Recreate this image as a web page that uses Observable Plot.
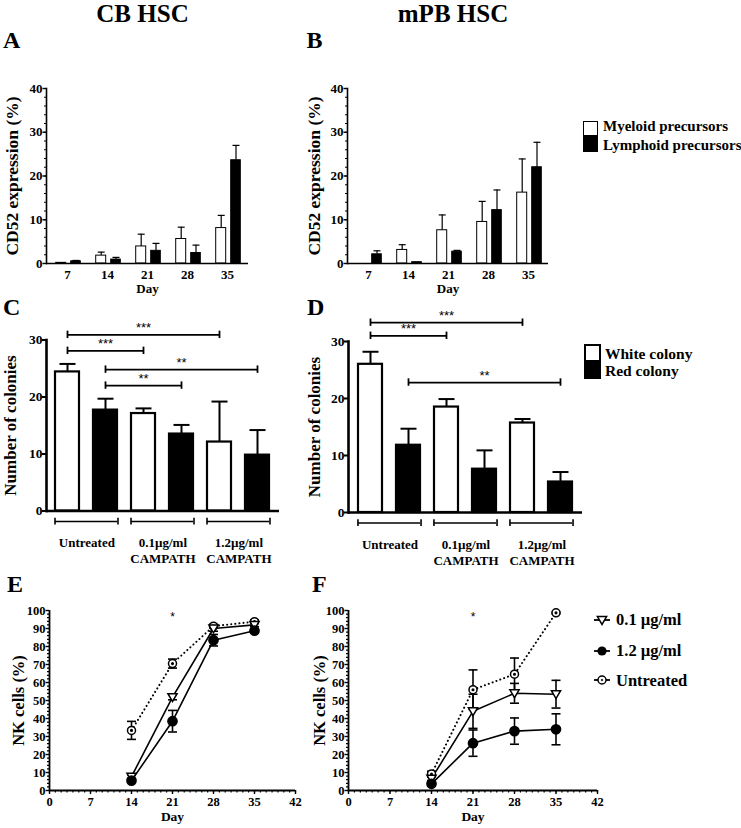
<!DOCTYPE html>
<html><head><meta charset="utf-8">
<script src="https://cdn.jsdelivr.net/npm/d3@7"></script>
<script src="https://cdn.jsdelivr.net/npm/@observablehq/plot@0.6"></script>
<style>
body{margin:0;background:#fff;}
#wrap{position:relative;width:741px;height:828px;overflow:hidden;font-family:"Liberation Serif","Times New Roman",serif;font-weight:bold;color:#000;background:#fff;}
.abs{position:absolute;line-height:1;white-space:nowrap;}
.panel{position:absolute;}
.panel svg{overflow:visible;background:transparent;}
.panel svg text{font-family:"Liberation Serif","Times New Roman",serif;font-weight:bold;fill:#000;}
.panel svg g[aria-label="text"].sans text, .panel svg .sans text{font-family:"Liberation Sans",Arial,sans-serif;font-weight:normal;}
</style></head><body><div id="wrap"></div>
<script>
// ---------- Data: panels A/B (CD52 expression) ----------
const days = [7, 14, 21, 28, 35];
const cbMyeloid = [0.15, 1.8, 3.9, 5.6, 8.1];
const cbMyeloidErr = [0, 0.8, 2.8, 2.7, 2.9];
const cbLymphoid = [0.5, 0.9, 2.9, 2.4, 23.6];
const cbLymphoidErr = [0.2, 0.5, 1.7, 1.8, 3.4];
const mpbMyeloid = [0, 3.1, 7.6, 9.5, 16.2];
const mpbMyeloidErr = [0, 1.2, 3.5, 4.7, 7.7];
const mpbLymphoid = [2.1, 0.3, 2.7, 12.2, 22.0];
const mpbLymphoidErr = [0.8, 0, 0.3, 4.6, 5.7];
const cd52Ticks = [0, 10, 20, 30, 40];

// ---------- Data: panels C/D (colonies) ----------
const treatments = ["Untreated", "0.1µg/ml\nCAMPATH", "1.2µg/ml\nCAMPATH"];
const colonyTypes = ["White colony", "Red colony"];
const cbWhite = [24.4, 17.1, 12.1];
const cbWhiteErr = [1.4, 0.9, 7.1];
const cbRed = [17.7, 13.5, 9.8];
const cbRedErr = [2.0, 1.6, 4.4];
const mpbWhite = [26.0, 18.5, 15.7];
const mpbWhiteErr = [2.2, 1.4, 0.7];
const mpbRed = [11.8, 7.6, 5.35];
const mpbRedErr = [2.9, 3.3, 1.75];
const colonyTicks = [0, 10, 20, 30];
// significance brackets (bar index order: W-Untr, R-Untr, W-0.1, R-0.1, W-1.2, R-1.2)
const cbSigFrom = [0, 0, 1, 1];
const cbSigTo = [4, 2, 5, 3];
const cbSigY = [30.9, 28.1, 24.8, 22.0];
const cbSigLabel = ["***", "***", "**", "**"];
const mpbSigFrom = [0, 0, 1];
const mpbSigTo = [4, 2, 5];
const mpbSigY = [33.3, 31.0, 22.8];
const mpbSigLabel = ["***", "***", "**"];

// ---------- Data: panels E/F (NK cells) ----------
const nkDays = [14, 21, 28, 35];
const nkSeries = ["0.1 µg/ml", "1.2 µg/ml", "Untreated"];
const cbNK01 = [7.7, 51.9, 90.0, 92.0];
const cbNK01Err = [1.0, 1.5, 1.5, 1.0];
const cbNK12 = [5.5, 38.5, 83.5, 88.8];
const cbNK12Err = [0.8, 6.0, 3.2, 1.0];
const cbNKUnt = [33.4, 70.5, 91.3, 93.8];
const cbNKUntErr = [5.0, 2.5, 1.0, 1.0];
const mpbNK01 = [6.6, 44.0, 54.0, 53.5];
const mpbNK01Err = [1.0, 9.5, 5.5, 7.7];
const mpbNK12 = [3.7, 26.3, 33.0, 34.0];
const mpbNK12Err = [1.0, 7.3, 7.3, 8.6];
const mpbNKUnt = [9.2, 56.0, 64.6, 98.7];
const mpbNKUntErr = [1.5, 11.0, 9.0, 0.5];
const nkXTicks = [0, 7, 14, 21, 28, 35, 42];
const nkYTicks = [0, 10, 20, 30, 40, 50, 60, 70, 80, 90, 100];
const nkSigDay = 21, nkSigY = 96.5;

// ---------- helpers ----------
const SERIF = '"Liberation Serif", "Times New Roman", serif';
const SANS = '"Liberation Sans", Arial, sans-serif';
const hline = {draw(ctx, size) {const r = Math.sqrt(size / Math.PI); ctx.moveTo(-r, 0); ctx.lineTo(r, 0);}};
const triDown = {draw(ctx, size) {const r = Math.sqrt(size / Math.PI); ctx.moveTo(-r, -r * 0.75); ctx.lineTo(r, -r * 0.75); ctx.lineTo(0, r * 0.95); ctx.closePath();}};
const circleDot = {draw(ctx, size) {const r = Math.sqrt(size / Math.PI); ctx.moveTo(r, 0); ctx.arc(0, 0, r, 0, 2 * Math.PI); ctx.moveTo(0.8, 0); ctx.arc(0, 0, 0.8, 0, 2 * Math.PI);}};
const wrap = document.getElementById("wrap");
function place(svg, left, top, tickFont) {
  svg.setAttribute("font-family", SERIF);
  svg.setAttribute("font-weight", "bold");
  svg.style.fontFamily = SERIF;
  svg.style.fontWeight = "bold";
  svg.style.background = "transparent";
  svg.style.overflow = "visible";
  svg.querySelectorAll('g[aria-label$="tick label"]').forEach(g => {
    g.setAttribute("font-size", tickFont);
    g.style.fontSize = tickFont + "px";
    g.style.fontFamily = SERIF;
    g.style.fontWeight = "bold";
  });
  const d = document.createElement("div");
  d.className = "panel"; d.style.left = left + "px"; d.style.top = top + "px";
  d.appendChild(svg); wrap.appendChild(d);
}
function yLabel(text, dx, size) {
  return Plot.text([text], {text: d => d, frameAnchor: "left", textAnchor: "middle", lineAnchor: "middle", rotate: -90, dx, fontSize: size, fontWeight: "bold", fill: "black"});
}

// ---------- Panels A/B ----------
function cd52Panel(my, myErr, ly, lyErr, o) {
  const rowsM = days.map((d, i) => ({day: String(d), value: my[i], top: my[i] + myErr[i], err: myErr[i]}));
  const rowsL = days.map((d, i) => ({day: String(d), value: ly[i], top: ly[i] + lyErr[i], err: lyErr[i]}));
  return Plot.plot({
    width: o.width, height: 232, marginLeft: o.ml, marginRight: o.mr, marginTop: 18, marginBottom: 39,
    x: {domain: days.map(String), padding: 0},
    y: {domain: [0, 40], label: null},
    marks: [
      Plot.ruleX(rowsM.filter(d => d.err > 0), {x: "day", y1: "value", y2: "top", dx: -6.3, strokeWidth: 1.2}),
      Plot.dot(rowsM.filter(d => d.err > 0), {x: "day", y: "top", dx: -6.3, symbol: hline, r: 3.5, fill: "none", stroke: "black", strokeWidth: 1.2}),
      Plot.ruleX(rowsL.filter(d => d.err > 0), {x: "day", y1: "value", y2: "top", dx: 8.5, strokeWidth: 1.2}),
      Plot.dot(rowsL.filter(d => d.err > 0), {x: "day", y: "top", dx: 8.5, symbol: hline, r: 3.5, fill: "none", stroke: "black", strokeWidth: 1.2}),
      Plot.barY(rowsM, {x: "day", y: "value", fill: "white", stroke: "black", strokeWidth: 1, insetLeft: 8.7, insetRight: 21.3}),
      Plot.barY(rowsL, {x: "day", y: "value", fill: "black", stroke: "black", strokeWidth: 1, insetLeft: 23.7, insetRight: 6.7}),
      Plot.ruleY([0], {strokeWidth: 1.6}),
      Plot.frame({anchor: "left", strokeWidth: 1.6}),
      Plot.axisY({ticks: d3.range(0, 41, 2), tickSize: 2, tickFormat: () => "", label: null, strokeWidth: 1.2}),
      Plot.axisY({ticks: cd52Ticks, tickSize: 3.5, tickPadding: 0.5, fontSize: 13, label: null, strokeWidth: 1.4}),
      Plot.axisX({tickSize: 0, tickPadding: 6, fontSize: 13, label: null}),
      Plot.text(["Day"], {text: d => d, frameAnchor: "bottom", dy: 29, fontSize: 13, fontWeight: "bold", fill: "black"}),
      yLabel("CD52 expression (%)", o.ldx, 17.5)
    ]
  });
}
place(cd52Panel(cbMyeloid, cbMyeloidErr, cbLymphoid, cbLymphoidErr, {width: 300, ml: 46, mr: 52, ldx: -34.5}), 0, 70, 13);
place(cd52Panel(mpbMyeloid, mpbMyeloidErr, mpbLymphoid, mpbLymphoidErr, {width: 260, ml: 47, mr: 12, ldx: -33.5}), 300, 70, 13);

// ---------- Panels C/D ----------
function colonyPanel(white, whiteErr, red, redErr, sFrom, sTo, sY, sLab, o) {
  const rows = [];
  treatments.forEach((t, i) => {
    rows.push({key: t + "|W", type: colonyTypes[0], value: white[i], top: white[i] + whiteErr[i]});
    rows.push({key: t + "|R", type: colonyTypes[1], value: red[i], top: red[i] + redErr[i]});
  });
  const keys = rows.map(d => d.key);
  const sig = sFrom.map((f, i) => ({from: keys[f], to: keys[sTo[i]], mid: keys[(f + sTo[i]) / 2], y: sY[i], label: sLab[i]}));
  const groups = treatments.map((t, i) => ({from: keys[2 * i], to: keys[2 * i + 1], label: t, y: -1.85}));
  const innerW = o.width - o.ml - o.mr;
  const pi = 0.356, po = 0.18;
  const step = innerW / (keys.length - pi + 2 * po);
  const bw = step * (1 - pi);
  return Plot.plot({
    width: o.width, height: o.height, marginLeft: o.ml, marginRight: o.mr, marginTop: o.mt, marginBottom: o.mb,
    x: {domain: keys, paddingInner: pi, paddingOuter: po, axis: null},
    y: {domain: [0, 30], label: null},
    marks: [
      Plot.ruleX(rows, {x: "key", y1: "value", y2: "top", strokeWidth: 2}),
      Plot.dot(rows, {x: "key", y: "top", symbol: hline, r: 8, fill: "none", stroke: "black", strokeWidth: 2}),
      Plot.barY(rows, {x: "key", y: "value", fill: d => d.type === colonyTypes[0] ? "white" : "black", stroke: "black", strokeWidth: 2.2}),
      Plot.ruleY([0], {strokeWidth: 2.6}),
      Plot.frame({anchor: "left", strokeWidth: 2.6}),
      Plot.axisY({ticks: colonyTicks, tickSize: 4, tickPadding: 0, fontSize: 13.5, label: null, strokeWidth: 2}),
      // significance brackets
      Plot.link(sig, {x1: "from", x2: "to", y1: "y", y2: "y", strokeWidth: 1.8, stroke: "black"}),
      Plot.ruleX(sig, {x: "from", y1: d => d.y - 0.65, y2: d => d.y + 0.65, strokeWidth: 1.8}),
      Plot.ruleX(sig, {x: "to", y1: d => d.y - 0.65, y2: d => d.y + 0.65, strokeWidth: 1.8}),
      Plot.text(sig, {x: "mid", y: "y", text: "label", dy: -7, fontFamily: SANS, fontWeight: "normal", fontSize: 13, fill: "black", className: "sans"}),
      // group brackets below the axis
      Plot.ruleY(groups, {x1: "from", x2: "to", y: "y", strokeWidth: 1.6}),
      Plot.ruleX(groups, {x: "from", y1: d => d.y - 0.6, y2: d => d.y + 0.6, dx: -bw / 2, strokeWidth: 1.6}),
      Plot.ruleX(groups, {x: "to", y1: d => d.y - 0.6, y2: d => d.y + 0.6, dx: bw / 2, strokeWidth: 1.6}),
      Plot.text(groups, {x: "from", text: "label", frameAnchor: "bottom", lineAnchor: "top", dx: step / 2, dy: 25, fontSize: 13, fontWeight: "bold", fill: "black", lineHeight: 1.22}),
      yLabel("Number of colonies", o.ldx, 17)
    ]
  });
}
place(colonyPanel(cbWhite, cbWhiteErr, cbRed, cbRedErr, cbSigFrom, cbSigTo, cbSigY, cbSigLabel,
  {width: 300, height: 260, ml: 46, mr: 21, mt: 29.5, mb: 59.5, ldx: -35.5}), 0, 310, 13.5);
place(colonyPanel(mpbWhite, mpbWhiteErr, mpbRed, mpbRedErr, mpbSigFrom, mpbSigTo, mpbSigY, mpbSigLabel,
  {width: 300, height: 270, ml: 48, mr: 18, mt: 41, mb: 58, ldx: -33.5}), 300, 300, 13.5);

// ---------- Panels E/F ----------
function nkPanel(s01, e01, s12, e12, sU, eU, o) {
  const mk = (vals, errs, name) => nkDays.map((d, i) => ({day: d, value: vals[i], err: errs[i], series: name}));
  const r01 = mk(s01, e01, nkSeries[0]);
  const r12 = mk(s12, e12, nkSeries[1]);
  const rU = mk(sU, eU, nkSeries[2]);
  const all = [...rU, ...r01, ...r12];
  return Plot.plot({
    width: 310, height: 238, marginLeft: o.ml, marginRight: o.mr, marginTop: 20, marginBottom: 38,
    x: {domain: [0, 42], label: null},
    y: {domain: [0, 100], label: null},
    marks: [
      Plot.ruleY([0], {strokeWidth: 1.8}),
      Plot.ruleX([0], {strokeWidth: 1.8}),
      Plot.axisX({ticks: d3.range(0, 43, 1), tickSize: 2.5, tickFormat: () => "", label: null, strokeWidth: 1.2}),
      Plot.axisX({ticks: nkXTicks, tickSize: 4, tickPadding: 2.5, fontSize: 12.5, label: null, strokeWidth: 1.4}),
      Plot.axisY({ticks: d3.range(0, 101, 2), tickSize: 2, tickFormat: () => "", label: null, strokeWidth: 1.2}),
      Plot.axisY({ticks: nkYTicks, tickSize: 3.5, tickPadding: 0.5, fontSize: 12.5, label: null, strokeWidth: 1.4}),
      Plot.line(rU, {x: "day", y: "value", stroke: "black", strokeWidth: 2, strokeDasharray: "0.1,4", strokeLinecap: "round"}),
      Plot.line(r01, {x: "day", y: "value", stroke: "black", strokeWidth: 1.6}),
      Plot.line(r12, {x: "day", y: "value", stroke: "black", strokeWidth: 1.6}),
      Plot.ruleX(all, {x: "day", y1: d => d.value - d.err, y2: d => d.value + d.err, strokeWidth: 1.6}),
      Plot.dot(all, {x: "day", y: d => d.value + d.err, symbol: hline, r: 4.5, fill: "none", stroke: "black", strokeWidth: 1.6}),
      Plot.dot(all, {x: "day", y: d => d.value - d.err, symbol: hline, r: 4.5, fill: "none", stroke: "black", strokeWidth: 1.6}),
      Plot.dot(rU, {x: "day", y: "value", symbol: circleDot, r: 4, fill: "white", stroke: "black", strokeWidth: 1.5}),
      Plot.dot(r01, {x: "day", y: "value", symbol: triDown, r: 4.6, fill: "white", stroke: "black", strokeWidth: 1.5}),
      Plot.dot(r12, {x: "day", y: "value", symbol: "circle", r: 4.6, fill: "black", stroke: "black"}),
      Plot.text([{day: nkSigDay, y: nkSigY}], {x: "day", y: "y", text: () => "*", fontFamily: SANS, fontWeight: "normal", fontSize: 12, fill: "black", className: "sans"}),
      Plot.text(["Day"], {text: d => d, frameAnchor: "bottom", dy: 30, fontSize: 13.5, fontWeight: "bold", fill: "black"}),
      yLabel("NK cells (%)", o.ldx, 16.5)
    ]
  });
}
place(nkPanel(cbNK01, cbNK01Err, cbNK12, cbNK12Err, cbNKUnt, cbNKUntErr, {ml: 49, mr: 15, ldx: -30.5}), 0, 590, 12.5);
place(nkPanel(mpbNK01, mpbNK01Err, mpbNK12, mpbNK12Err, mpbNKUnt, mpbNKUntErr, {ml: 48, mr: 13, ldx: -29}), 300, 590, 12.5);

// ---------- Titles, panel letters, legends (HTML) ----------
function txt(s, left, top, size, extra = "") {
  const d = document.createElement("div");
  d.className = "abs"; d.textContent = s;
  d.style.cssText += `left:${left}px;top:${top}px;font-size:${size}px;${extra}`;
  wrap.appendChild(d); return d;
}
function centered(s, cx, top, size) {
  return txt(s, cx - 150, top, size, "width:300px;text-align:center;");
}
centered("CB HSC", 142.5, 0.5, 25);
centered("mPB HSC", 453, 0.5, 25);
txt("A", 3, 28, 24); txt("B", 306.5, 28, 24);
txt("C", 3, 295, 24); txt("D", 307, 295, 24);
txt("E", 7, 572, 24); txt("F", 312, 572, 24);

function box(left, top, w, h, fill, border) {
  const d = document.createElement("div");
  d.className = "abs";
  d.style.cssText += `left:${left}px;top:${top}px;width:${w}px;height:${h}px;background:${fill};border:${border}px solid #000;box-sizing:border-box;`;
  wrap.appendChild(d);
}
// legend A/B
box(583, 120.5, 14.5, 15.5, "#fff", 1);
box(583, 135, 14.5, 16.5, "#000", 1);
txt("Myeloid precursors", 603, 119, 15);
txt("Lymphoid precursors", 603, 137.5, 15);
// legend C/D
box(584, 344, 16.5, 18, "#fff", 2.5);
box(584, 361.5, 16.5, 17.5, "#000", 2.5);
txt(colonyTypes[0], 605, 345.5, 15.5);
txt(colonyTypes[1], 605, 363, 15.5);
// legend F
const legSym = [
  '<path d="M-4.6,-3.45L4.6,-3.45L0,4.4Z" fill="#fff" stroke="#000" stroke-width="1.5"/>',
  '<circle r="4.6" fill="#000"/>',
  '<circle r="4" fill="#fff" stroke="#000" stroke-width="1.5"/><circle r="0.8" fill="#fff" stroke="#000" stroke-width="1"/>'
];
const legY = [619.5, 650.5, 680];
nkSeries.forEach((s, i) => {
  const d = document.createElement("div");
  d.className = "abs";
  d.style.cssText += `left:592px;top:${legY[i] - 8}px;width:20px;height:16px;`;
  d.innerHTML = `<svg width="20" height="16" viewBox="-10 -8 20 16"><line x1="-8" x2="8" y1="0" y2="0" stroke="#000" stroke-width="1.8"/>${legSym[i]}</svg>`;
  wrap.appendChild(d);
  txt(s, 616, legY[i] - 7.5, 16.5);
});
</script></body></html>
